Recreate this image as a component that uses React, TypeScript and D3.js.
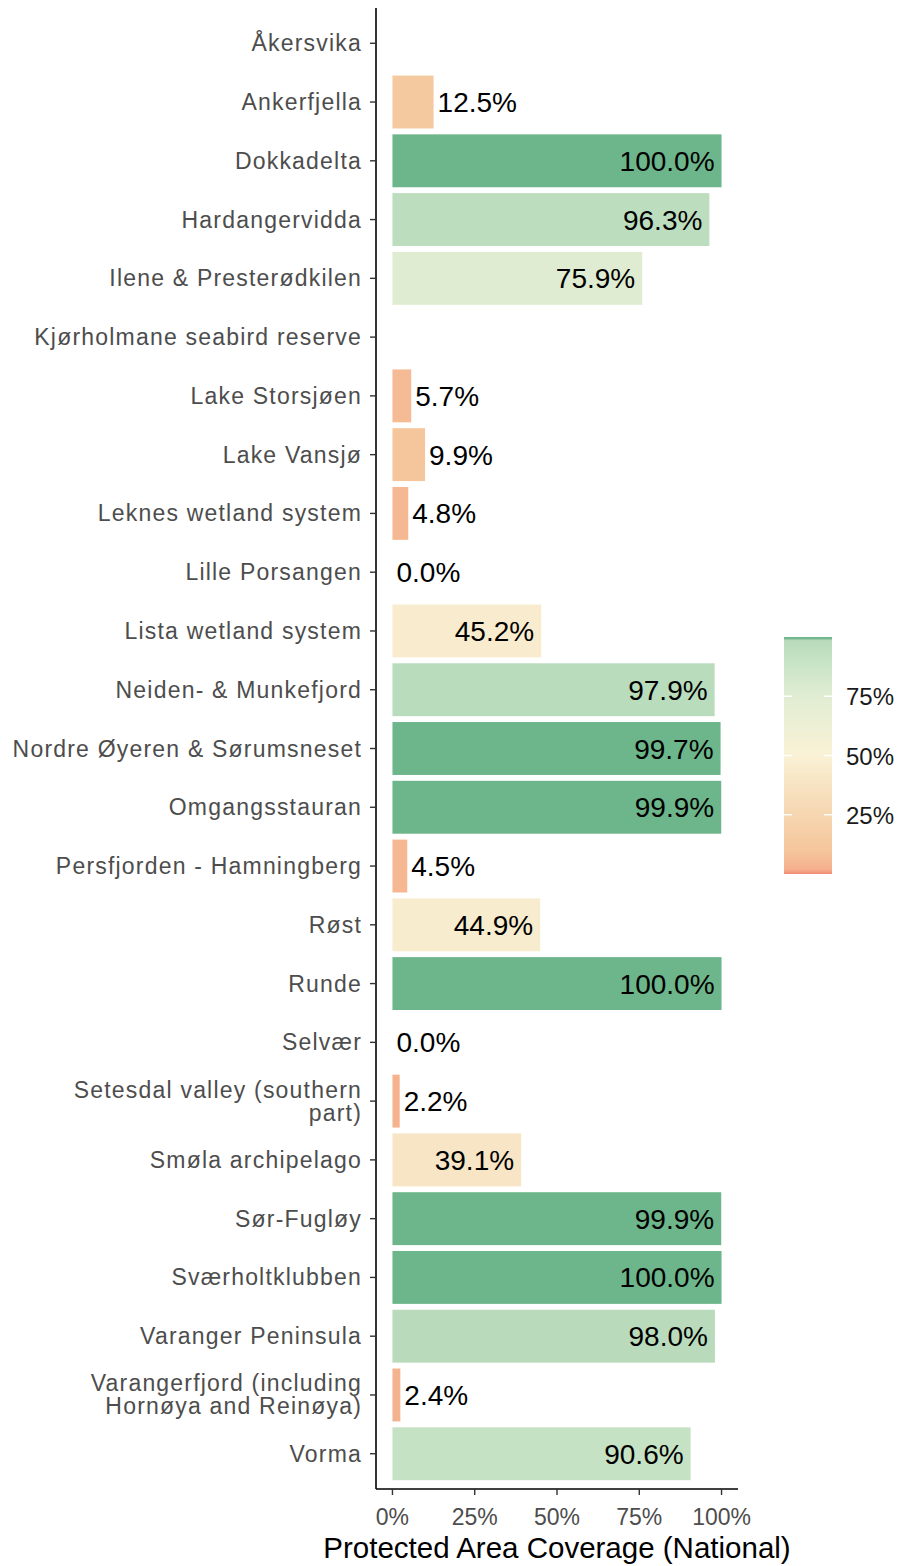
import React, { useEffect, useRef } from 'react';
import * as d3 from 'd3';

// chart data
const sites = [
  'Åkersvika',
  'Ankerfjella',
  'Dokkadelta',
  'Hardangervidda',
  'Ilene & Presterødkilen',
  'Kjørholmane seabird reserve',
  'Lake Storsjøen',
  'Lake Vansjø',
  'Leknes wetland system',
  'Lille Porsangen',
  'Lista wetland system',
  'Neiden- & Munkefjord',
  'Nordre Øyeren & Sørumsneset',
  'Omgangsstauran',
  'Persfjorden - Hamningberg',
  'Røst',
  'Runde',
  'Selvær',
  'Setesdal valley (southern\npart)',
  'Smøla archipelago',
  'Sør-Fugløy',
  'Sværholtklubben',
  'Varanger Peninsula',
  'Varangerfjord (including\nHornøya and Reinøya)',
  'Vorma',
];

// coverage as a fraction, null = no data
const coverage: (number | null)[] = [
  null, 0.125, 1.0, 0.963, 0.759, null, 0.057, 0.099, 0.048, 0.0,
  0.452, 0.979, 0.997, 0.999, 0.045, 0.449, 1.0, 0.0, 0.022, 0.391,
  0.999, 1.0, 0.98, 0.024, 0.906,
];

const xTicks = [0, 0.25, 0.5, 0.75, 1];
const legendTicks = [0.25, 0.5, 0.75];

const colorStops = [0, 0.02, 0.1, 0.4, 0.5, 0.75, 0.9, 0.985, 0.995, 1];
const colorRange = ['#F28A72', '#F5B18D', '#F5C69C', '#F7E6C6', '#FAF2D6', '#E0EDD3', '#C7E3C5', '#B8DBBB', '#6DB58A', '#6DB58A'];

const W = 901;
const H = 1566;
const panel = { left: 376, right: 738, top: 8, bottom: 1489 };

const App = () => {
  const ref = useRef<SVGSVGElement>(null);

  useEffect(() => {
    const svg = d3.select(ref.current);
    svg.selectAll('*').remove();

    const x = d3.scaleLinear().domain([-0.05, 1.05]).range([panel.left, panel.right]);
    const y = d3
      .scaleBand()
      .domain(sites)
      .range([panel.top, panel.bottom])
      .paddingInner(0.1)
      .paddingOuter(0.15);
    const color = d3.scaleLinear<string>().domain(colorStops).range(colorRange);

    const rows = sites.map((s, i) => ({ site: s, v: coverage[i] }));
    const mid = (s: string) => (y(s) as number) + y.bandwidth() / 2;

    // bars
    svg
      .append('g')
      .selectAll('rect')
      .data(rows.filter(d => d.v !== null))
      .enter()
      .append('rect')
      .attr('x', x(0))
      .attr('y', d => y(d.site) as number)
      .attr('width', d => x(d.v as number) - x(0))
      .attr('height', y.bandwidth())
      .attr('fill', d => color(d.v as number));

    // value labels
    svg
      .append('g')
      .selectAll('text')
      .data(rows.filter(d => d.v !== null))
      .enter()
      .append('text')
      .attr('x', d => ((d.v as number) > 0.3 ? x(d.v as number) - 7 : x(d.v as number) + 4))
      .attr('y', d => mid(d.site) + 10)
      .attr('text-anchor', d => ((d.v as number) > 0.3 ? 'end' : 'start'))
      .attr('font-family', 'Liberation Sans, Arial, sans-serif')
      .attr('font-size', 28)
      .attr('fill', '#000')
      .text(d => ((d.v as number) * 100).toFixed(1) + '%');

    // y axis
    const yAxis = svg.append('g');
    yAxis
      .append('line')
      .attr('x1', panel.left)
      .attr('x2', panel.left)
      .attr('y1', panel.top)
      .attr('y2', panel.bottom)
      .attr('stroke', '#000')
      .attr('stroke-width', 1.6);
    sites.forEach(s => {
      const cy = mid(s);
      yAxis
        .append('line')
        .attr('x1', panel.left - 6)
        .attr('x2', panel.left)
        .attr('y1', cy)
        .attr('y2', cy)
        .attr('stroke', '#333')
        .attr('stroke-width', 1.4);
      const lines = s.split('\n');
      const t = yAxis
        .append('text')
        .attr('text-anchor', 'end')
        .attr('font-family', 'Liberation Sans, Arial, sans-serif')
        .attr('font-size', 23)
        .attr('letter-spacing', 1.2)
        .attr('fill', '#4D4D4D');
      lines.forEach((ln, k) => {
        t.append('tspan')
          .attr('x', panel.left - 14)
          .attr('y', cy + 8 + (k - (lines.length - 1) / 2) * 23)
          .text(ln);
      });
    });

    // x axis
    const xAxis = svg.append('g');
    xAxis
      .append('line')
      .attr('x1', panel.left)
      .attr('x2', panel.right)
      .attr('y1', panel.bottom)
      .attr('y2', panel.bottom)
      .attr('stroke', '#000')
      .attr('stroke-width', 1.6);
    xTicks.forEach(v => {
      xAxis
        .append('line')
        .attr('x1', x(v))
        .attr('x2', x(v))
        .attr('y1', panel.bottom)
        .attr('y2', panel.bottom + 6)
        .attr('stroke', '#333')
        .attr('stroke-width', 1.4);
      xAxis
        .append('text')
        .attr('x', x(v))
        .attr('y', 1525)
        .attr('text-anchor', 'middle')
        .attr('font-family', 'Liberation Sans, Arial, sans-serif')
        .attr('font-size', 23)
        .attr('fill', '#4D4D4D')
        .text(d3.format('.0%')(v));
    });
    xAxis
      .append('text')
      .attr('x', (panel.left + panel.right) / 2)
      .attr('y', 1558)
      .attr('text-anchor', 'middle')
      .attr('font-family', 'Liberation Sans, Arial, sans-serif')
      .attr('font-size', 29.5)
      .attr('fill', '#000')
      .text('Protected Area Coverage (National)');

    // colour bar legend
    const leg = { x: 784, w: 48, top: 637, bottom: 874 };
    const ly = d3.scaleLinear().domain([0, 1]).range([leg.bottom, leg.top]);
    const grad = svg
      .append('defs')
      .append('linearGradient')
      .attr('id', 'covgrad')
      .attr('x1', 0)
      .attr('x2', 0)
      .attr('y1', 1)
      .attr('y2', 0);
    d3.range(0, 1.0001, 0.0025).forEach(v => {
      grad
        .append('stop')
        .attr('offset', v)
        .attr('stop-color', color(v));
    });
    svg
      .append('rect')
      .attr('x', leg.x)
      .attr('y', leg.top)
      .attr('width', leg.w)
      .attr('height', leg.bottom - leg.top)
      .attr('fill', 'url(#covgrad)');
    legendTicks.forEach(v => {
      [leg.x, leg.x + leg.w - 8].forEach(tx => {
        svg
          .append('line')
          .attr('x1', tx)
          .attr('x2', tx + 8)
          .attr('y1', ly(v))
          .attr('y2', ly(v))
          .attr('stroke', '#fff')
          .attr('stroke-width', 1.4);
      });
      svg
        .append('text')
        .attr('x', 846)
        .attr('y', ly(v) + 9)
        .attr('font-family', 'Liberation Sans, Arial, sans-serif')
        .attr('font-size', 24)
        .attr('fill', '#1a1a1a')
        .text(d3.format('.0%')(v));
    });
  }, []);

  return (
    <div style={{ position: 'absolute', left: 0, top: 0 }}>
      <svg ref={ref} width={W} height={H} style={{ display: 'block', background: '#fff' }} />
    </div>
  );
};

export default App;
